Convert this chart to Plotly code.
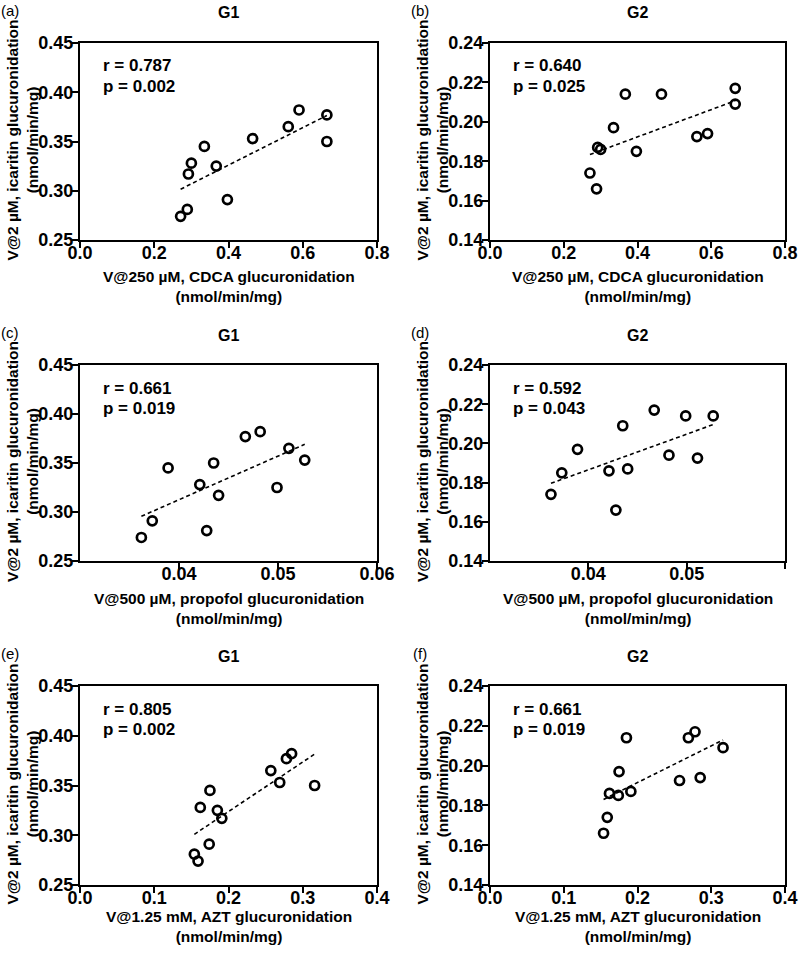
import numpy as np
import plotly.graph_objects as go

# ---- data (12 samples, same order in every panel) ----
cdca = [0.271, 0.289, 0.292, 0.300, 0.335, 0.367, 0.397, 0.465, 0.561, 0.590, 0.665, 0.665]
propofol = [0.0362, 0.0428, 0.0440, 0.0421, 0.0389, 0.0499, 0.0373, 0.0527, 0.0511, 0.0482, 0.0467, 0.0435]
azt = [0.159, 0.154, 0.191, 0.162, 0.175, 0.185, 0.174, 0.269, 0.257, 0.285, 0.278, 0.316]
g1 = [0.274, 0.281, 0.317, 0.328, 0.345, 0.325, 0.291, 0.353, 0.365, 0.382, 0.377, 0.350]
g2 = [0.174, 0.166, 0.187, 0.186, 0.197, 0.214, 0.185, 0.214, 0.1925, 0.194, 0.217, 0.209]

panel_labels = ["(a)", "(b)", "(c)", "(d)", "(e)", "(f)"]
group_titles = ["G1", "G2", "G1", "G2", "G1", "G2"]
r_vals = ["0.787", "0.640", "0.661", "0.592", "0.805", "0.661"]
p_vals = ["0.002", "0.025", "0.019", "0.043", "0.002", "0.019"]
x_titles = ["V@250 µM, CDCA glucuronidation",
            "V@500 µM, propofol glucuronidation",
            "V@1.25 mM, AZT glucuronidation"]
unit_text = "(nmol/min/mg)"
y_title = "V@2 µM, icaritin glucuronidation"

x_ticks_cdca = [0.0, 0.2, 0.4, 0.6, 0.8]
x_ticks_prop = [0.04, 0.05, 0.06]
x_ticks_azt = [0.0, 0.1, 0.2, 0.3, 0.4]
y_ticks_g1 = [0.25, 0.30, 0.35, 0.40, 0.45]
y_ticks_g2 = [0.14, 0.16, 0.18, 0.20, 0.22, 0.24]

# ---- layout geometry (pixels) ----
W, H = 800, 953
cols = [(80, 377), (490, 785)]
rows = [(43, 240), (365, 561), (686, 885)]
xtitle_off = [47, 47, 41]

def pxx(x):
    return x / W

def pxy(y):
    return 1 - y / H

FONT = "Liberation Sans, Arial, sans-serif"

xdata = [cdca, cdca, propofol, propofol, azt, azt]
ydata = [g1, g2, g1, g2, g1, g2]
xticks = [x_ticks_cdca, x_ticks_cdca, x_ticks_prop, x_ticks_prop, x_ticks_azt, x_ticks_azt]
xranges = [[0, 0.8], [0, 0.8], [0.03, 0.06], [0.03, 0.06], [0, 0.4], [0, 0.4]]
xfmt = [".1f", ".1f", ".2f", ".2f", ".1f", ".1f"]
yticks = [y_ticks_g1, y_ticks_g2] * 3
yranges = [[0.25, 0.45], [0.14, 0.24]] * 3

fig = go.Figure()
annotations = []

def ann(text, x, y, font, xanchor="center", angle=0):
    return dict(text=text, x=pxx(x), y=pxy(y), xref="paper", yref="paper",
                xanchor=xanchor, yanchor="middle", showarrow=False,
                textangle=angle, font=font)

for k in range(6):
    row, col = k // 2, k % 2
    n = k + 1
    xa = "x" if n == 1 else f"x{n}"
    ya = "y" if n == 1 else f"y{n}"
    xs = np.array(xdata[k])
    ys = np.array(ydata[k])

    fig.add_trace(go.Scatter(
        x=xs, y=ys, mode="markers", xaxis=xa, yaxis=ya, showlegend=False,
        marker=dict(symbol="circle-open", size=9, color="black",
                    line=dict(width=2.7, color="black"))))

    slope, intercept = np.polyfit(xs, ys, 1)
    lx = np.array([xs.min(), xs.max()])
    fig.add_trace(go.Scatter(
        x=lx, y=slope * lx + intercept, mode="lines", xaxis=xa, yaxis=ya,
        showlegend=False, line=dict(color="black", width=1.6, dash="4px,3px")))

    l, r = cols[col]
    t, b = rows[row]
    axis_common = dict(showline=True, mirror=True, linecolor="black", linewidth=2,
                       ticks="outside", ticklen=6, tickwidth=2, tickcolor="black",
                       showgrid=False, zeroline=False, automargin=False,
                       tickfont=dict(family=FONT, size=18, color="black", weight="bold"))
    fig.layout[f"xaxis{'' if n == 1 else n}"] = dict(
        domain=[pxx(l), pxx(r)], range=xranges[k], tickvals=xticks[k],
        tickformat=xfmt[k], anchor=ya, ticklabelstandoff=-11, **axis_common)
    fig.layout[f"yaxis{'' if n == 1 else n}"] = dict(
        domain=[pxy(b), pxy(t)], range=yranges[k], tickvals=yticks[k],
        tickformat=".2f", anchor=xa, ticklabelstandoff=-5, **axis_common)

    cx = (l + r) / 2
    cy = (t + b) / 2
    title_font = dict(family=FONT, size=15.5, color="black", weight="bold")
    bold16 = dict(family=FONT, size=16, color="black", weight="bold")
    bold17 = dict(family=FONT, size=17, color="black", weight="bold")
    annotations.append(ann(panel_labels[k], l - 70, t - 33,
                           dict(family=FONT, size=15, color="black")))
    annotations.append(ann(group_titles[k], cx, t - 30, bold16))
    annotations.append(ann(f"r = {r_vals[k]}", l + 21, t + 23, bold17, xanchor="left"))
    annotations.append(ann(f"p = {p_vals[k]}", l + 21, t + 43, bold17, xanchor="left"))
    annotations.append(ann(f"{x_titles[row]}<br>{unit_text}", cx, b + xtitle_off[row], title_font))
    annotations.append(ann(f"{y_title}<br>{unit_text}", l - 58, cy - 1, title_font, angle=-90))

fig.update_layout(width=W, height=H,
                  margin=dict(l=0, r=0, t=0, b=0, pad=0, autoexpand=False),
                  plot_bgcolor="white", paper_bgcolor="white",
                  annotations=annotations, showlegend=False, hovermode=False)

fig.write_html("out.html",
               config={"displayModeBar": False, "staticPlot": True},
               post_script="document.body.style.margin='0px';document.body.style.overflow='hidden';")
